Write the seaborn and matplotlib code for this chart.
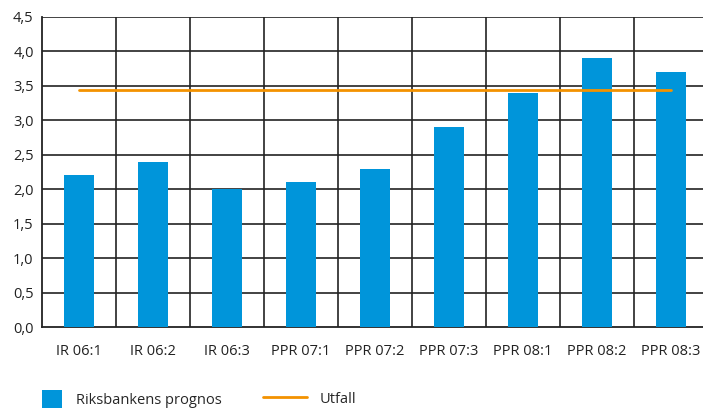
import matplotlib
matplotlib.use("Agg")
import matplotlib.pyplot as plt
import seaborn as sns
import pandas as pd
from matplotlib.patches import Patch
from matplotlib.lines import Line2D

categories = ["IR 06:1", "IR 06:2", "IR 06:3", "PPR 07:1", "PPR 07:2",
              "PPR 07:3", "PPR 08:1", "PPR 08:2", "PPR 08:3"]
prognos = [2.2, 2.4, 2.0, 2.1, 2.3, 2.9, 3.4, 3.9, 3.7]
utfall = [3.44, 3.44, 3.44, 3.44, 3.44, 3.44, 3.44, 3.44, 3.44]
yticks = [0.0, 0.5, 1.0, 1.5, 2.0, 2.5, 3.0, 3.5, 4.0, 4.5]

blue = "#0095DA"
orange = "#F39200"

sns.set_style("white")
plt.rcParams["font.family"] = ["Open Sans", "DejaVu Sans"]

df = pd.DataFrame({"kvartal": categories, "prognos": prognos, "utfall": utfall})

fig = plt.figure(figsize=(7.03, 4.11), dpi=100)
ax = fig.add_axes([42 / 703, (411 - 327) / 411, 666 / 703, 310 / 411])

sns.barplot(data=df, x="kvartal", y="prognos", color=blue, width=0.4,
            saturation=1, linewidth=0, ax=ax, zorder=3)
ax.plot(range(len(categories)), df["utfall"], color=orange, lw=2, zorder=4)

ax.set_xlim(-0.5, len(categories) - 0.5)
ax.set_ylim(0, 4.5)
ax.set_yticks(yticks)
ax.set_yticklabels([f"{v:.1f}".replace(".", ",") for v in yticks])
ax.set_xlabel("")
ax.set_ylabel("")

for v in yticks[1:]:
    ax.axhline(v, color="#222222", lw=1.2, zorder=1)
for i in range(1, len(categories)):
    ax.axvline(i - 0.5, color="#222222", lw=1.2, zorder=1)

for s in ["top", "right"]:
    ax.spines[s].set_visible(False)
for s in ["left", "bottom"]:
    ax.spines[s].set_color("#222222")
    ax.spines[s].set_linewidth(1.3)
ax.tick_params(axis="both", length=0, labelsize=10.5, colors="#222222")
ax.tick_params(axis="x", pad=12)
ax.tick_params(axis="y", pad=6)

leg1 = fig.legend([Patch(facecolor=blue, edgecolor="none")], ["Riksbankens prognos"],
                  loc="center left", bbox_to_anchor=(29 / 703, 12 / 411), frameon=False,
                  fontsize=10.5, handlelength=1.35, handleheight=1.6, handletextpad=1.0)
leg2 = fig.legend([Line2D([0], [0], color=orange, lw=2)], ["Utfall"],
                  loc="center left", bbox_to_anchor=(250 / 703, 12 / 411), frameon=False,
                  fontsize=10.5, handlelength=3.0, handletextpad=0.9)

fig.savefig("out.png", dpi=100)
